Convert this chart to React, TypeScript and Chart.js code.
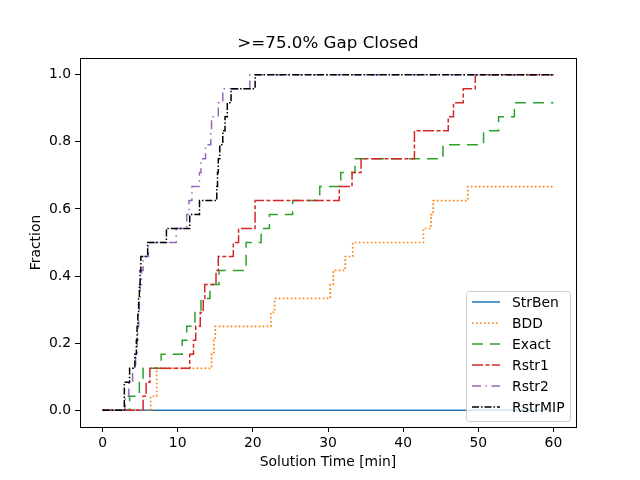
import { useEffect, useRef } from "react";
import { Chart, registerables } from "chart.js";

Chart.register(...registerables);

// instances solved, out of 24, at each solution time (min)
const TOTAL = 24;
const seriesNames = ["StrBen", "BDD", "Exact", "Rstr1", "Rstr2", "RstrMIP"];
const chartTitle = ">=75.0% Gap Closed";

const strBenTimes = [0, 60];
const strBenCounts = [0, 0];

const bddTimes = [0, 6.4, 7.2, 14.5, 14.8, 15.0, 22.4, 22.9, 30.3, 30.7, 32.3, 33.3, 42.7, 43.7, 44.0, 48.6, 60];
const bddCounts = [0, 1, 3, 4, 5, 6, 7, 8, 9, 10, 11, 12, 13, 14, 15, 16, 16];

const exactTimes = [0, 3.6, 4.9, 5.4, 7.8, 10.6, 11.2, 12.3, 13.1, 14.3, 15.5, 19.1, 21.1, 22.2, 25.3, 28.9, 31.7, 33.6, 45.3, 50.7, 52.7, 54.8, 60];
const exactCounts = [0, 1, 2, 3, 4, 5, 6, 7, 8, 9, 10, 12, 13, 14, 15, 16, 17, 18, 19, 20, 21, 22, 22];

const rstr1Times = [0, 5.4, 5.8, 6.3, 11.6, 12.1, 12.4, 13.0, 13.4, 13.6, 15.1, 15.4, 17.4, 18.1, 20.3, 31.5, 33.2, 34.4, 41.5, 46.0, 46.7, 48.0, 49.6, 60];
const rstr1Counts = [0, 1, 2, 3, 4, 5, 6, 7, 8, 9, 10, 11, 12, 13, 15, 16, 17, 18, 20, 21, 22, 23, 24, 24];

const rstr2Times = [0, 3.0, 3.5, 4.0, 4.4, 4.6, 4.7, 4.8, 4.9, 5.0, 5.2, 5.4, 6.1, 9.8, 11.2, 11.5, 11.9, 12.9, 13.1, 13.7, 14.4, 14.5, 15.4, 16.0, 19.6, 60];
const rstr2Counts = [0, 1, 2, 3, 4, 5, 6, 7, 8, 9, 10, 11, 12, 13, 14, 15, 16, 17, 18, 19, 20, 21, 22, 23, 24, 24];

const rstrMipTimes = [0, 2.9, 3.6, 4.3, 4.5, 4.6, 4.7, 4.8, 4.9, 5.0, 5.1, 6.0, 8.5, 11.6, 12.9, 15.2, 15.3, 15.4, 15.6, 16.0, 16.3, 16.6, 17.1, 20.3, 60];
const rstrMipCounts = [0, 2, 3, 4, 5, 6, 7, 8, 9, 10, 11, 12, 13, 14, 15, 16, 17, 18, 19, 20, 21, 22, 23, 24, 24];

const xTicks = [0, 10, 20, 30, 40, 50, 60];
const yTicks = [0, 0.2, 0.4, 0.6, 0.8, 1.0];

const FONT = "'DejaVu Sans', sans-serif";

const toPoints = (times: number[], counts: number[]) =>
  times.map((t, i) => ({ x: t, y: counts[i] / TOTAL }));

const styles = [
  { color: "#1f77b4", dash: [] as number[], width: 1.5 },
  { color: "#ff7f0e", dash: [1.6, 2.4], width: 1.7 },
  { color: "#2ca02c", dash: [11, 7], width: 1.5 },
  { color: "#d62728", dash: [11, 2.5, 4, 2.5], width: 1.5 },
  { color: "#9467bd", dash: [9, 4.5, 1.5, 4.5], width: 1.5 },
  { color: "#000000", dash: [7, 2, 1.5, 2], width: 1.5 },
];

// title centred over the plot area, like matplotlib
const plotTitle = {
  id: "plotTitle",
  afterDraw(chart: any) {
    const { ctx, chartArea: a } = chart;
    ctx.save();
    ctx.fillStyle = "#000";
    ctx.font = `16.7px ${FONT}`;
    ctx.textAlign = "center";
    ctx.textBaseline = "middle";
    ctx.fillText(chartTitle, (a.left + a.right) / 2, 44);
    ctx.restore();
  },
};

const frame = {
  id: "frame",
  afterDatasetsDraw(chart: any) {
    const { ctx, chartArea: a } = chart;
    ctx.save();
    ctx.strokeStyle = "#000";
    ctx.lineWidth = 1;
    ctx.strokeRect(Math.round(a.left) + 0.5, Math.round(a.top) + 0.5, Math.round(a.right - a.left), Math.round(a.bottom - a.top));
    ctx.restore();
  },
};

const insideLegend = {
  id: "insideLegend",
  afterDatasetsDraw(chart: any) {
    const { ctx, chartArea } = chart;
    const w = 104, h = 130, rowH = 21;
    const x0 = Math.round(chartArea.right) - 6 - w;
    const y0 = Math.round(chartArea.bottom) - 6 - h;
    ctx.save();
    ctx.beginPath();
    ctx.roundRect(x0 + 0.5, y0 + 0.5, w, h, 3);
    ctx.fillStyle = "rgba(255,255,255,0.8)";
    ctx.fill();
    ctx.strokeStyle = "#cccccc";
    ctx.lineWidth = 1;
    ctx.stroke();
    chart.data.datasets.forEach((ds: any, i: number) => {
      const y = y0 + 11 + i * rowH;
      ctx.beginPath();
      ctx.setLineDash(ds.borderDash || []);
      ctx.strokeStyle = ds.borderColor;
      ctx.lineWidth = ds.borderWidth;
      ctx.moveTo(x0 + 6, y);
      ctx.lineTo(x0 + 34, y);
      ctx.stroke();
      ctx.setLineDash([]);
      ctx.fillStyle = "#000";
      ctx.font = `13.9px ${FONT}`;
      ctx.textBaseline = "middle";
      ctx.fillText(ds.label, x0 + 46, y + 1);
    });
    ctx.restore();
  },
};

export default function App() {
  const canvasRef = useRef<HTMLCanvasElement>(null);

  useEffect(() => {
    if (!canvasRef.current) return;
    const all = [
      toPoints(strBenTimes, strBenCounts),
      toPoints(bddTimes, bddCounts),
      toPoints(exactTimes, exactCounts),
      toPoints(rstr1Times, rstr1Counts),
      toPoints(rstr2Times, rstr2Counts),
      toPoints(rstrMipTimes, rstrMipCounts),
    ];
    const chart = new Chart(canvasRef.current, {
      type: "line",
      data: {
        datasets: all.map((pts, i) => ({
          label: seriesNames[i],
          data: pts,
          borderColor: styles[i].color,
          backgroundColor: styles[i].color,
          borderDash: styles[i].dash,
          borderWidth: styles[i].width,
          pointRadius: 0,
          stepped: "before" as const,
          fill: false,
          order: seriesNames.length - i,
        })),
      },
      options: {
        responsive: false,
        animation: false,
        devicePixelRatio: 1,
        layout: { padding: { left: 0, right: 64, top: 58, bottom: 0 } },
        plugins: {
          legend: { display: false },
          tooltip: { enabled: false },
          title: { display: false },
        },
        scales: {
          x: {
            type: "linear",
            min: -3,
            max: 63,
            afterBuildTicks: (s: any) => { s.ticks = xTicks.map((v) => ({ value: v })); },
            afterFit: (s: any) => { s.height = 53; },
            ticks: { color: "#000", font: { family: FONT, size: 13.9 }, padding: 3, maxRotation: 0 },
            grid: { drawOnChartArea: false, tickLength: 5, color: "#000" },
            border: { color: "#000" },
            title: { display: true, text: "Solution Time [min]", color: "#000", font: { family: FONT, size: 13.9 }, padding: { top: 0, bottom: 9 } },
          },
          y: {
            type: "linear",
            min: -0.05,
            max: 1.05,
            afterBuildTicks: (s: any) => { s.ticks = yTicks.map((v) => ({ value: v })); },
            afterFit: (s: any) => { s.width = 80; },
            ticks: { color: "#000", font: { family: FONT, size: 13.9 }, padding: 4, callback: (v: any) => Number(v).toFixed(1) },
            grid: { drawOnChartArea: false, tickLength: 5, color: "#000" },
            border: { color: "#000" },
            title: { display: true, text: "Fraction", color: "#000", font: { family: FONT, size: 13.9 }, padding: { top: 28, bottom: 0 } },
          },
        },
      },
      plugins: [frame, insideLegend, plotTitle],
    });
    return () => chart.destroy();
  }, []);

  return (
    <div style={{ position: "fixed", left: 0, top: 0, width: 640, height: 480, background: "#fff" }}>
      <canvas ref={canvasRef} width={640} height={480} />
    </div>
  );
}
